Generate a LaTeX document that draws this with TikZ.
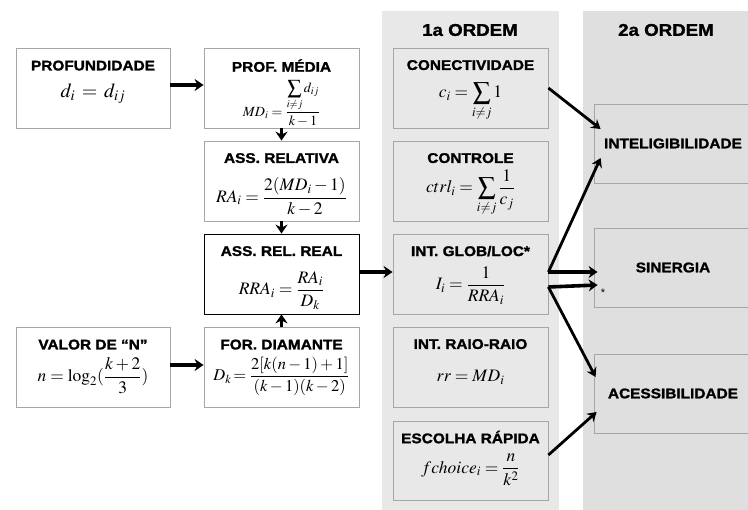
\documentclass[tikz,border=0pt]{standalone}
\usepackage{amsmath}
\usepackage{mathptmx}
\usepackage{fontspec}
\setmainfont{Liberation Sans}
\newfontfamily\tfont{Liberation Sans}[FakeStretch=1.1, BoldFeatures={FakeBold=1.5}]
\usetikzlibrary{arrows.meta,calc}
\definecolor{colA}{gray}{0.91}
\definecolor{colB}{gray}{0.875}
\definecolor{bordergray}{gray}{0.65}
\tikzset{
  box/.style={draw=bordergray, line width=0.8pt, minimum width=155pt, minimum height=80pt, inner sep=0pt},
  wbox/.style={box, fill=white},
  gbox/.style={box, fill=colA},
  obox/.style={box, fill=colB, minimum width=158pt, minimum height=79pt},
  ttl/.style={font=\tfont\bfseries\fontsize{14}{16}\selectfont, inner sep=0pt},
  coltitle/.style={font=\tfont\bfseries\fontsize{17}{19}\selectfont, inner sep=0pt},
  frm/.style={font=\fontsize{17.5}{20}\selectfont, inner sep=0pt},
  bigarrow/.style={line width=3.6pt, -{Stealth[length=9pt,width=12pt,inset=3pt]}},
  diagarrow/.style={line width=2.8pt, -{Stealth[length=9pt,width=11pt,inset=3pt]}},
}
\begin{document}
\begin{tikzpicture}[x=1pt,y=1pt]
\useasboundingbox (0,0) rectangle (748,-510);
\fill[white] (0,0) rectangle (748,-510);
% columns
\fill[colA] (382,-11) rectangle (559,-510);
\fill[colB] (583,-11) rectangle (748,-510);
\node[coltitle] (t1) at (470,-30) {1a ORDEM};
\node[coltitle] (t2) at (666,-30) {2a ORDEM};

% left boxes
\node[wbox, minimum width=154pt] (prof) at (93,-88) {};
\node[wbox] (med) at (281.5,-88) {};
\node[wbox] (rel) at (281.5,-181) {};
\node[wbox, draw=black] (real) at (281.5,-274) {};
\node[wbox] (diam) at (281.5,-367) {};
\node[wbox, minimum width=154pt] (valor) at (93,-367) {};

% first order boxes
\node[gbox] (con) at (470.5,-88) {};
\node[gbox] (ctrl) at (470.5,-181) {};
\node[gbox] (glob) at (470.5,-274) {};
\node[gbox] (raio) at (470.5,-367) {};
\node[gbox, minimum height=79pt] (esc) at (470.5,-460.5) {};

% second order boxes
\node[obox] (intel) at (673,-143.5) {};
\node[obox] (sin) at (673,-267.5) {};
\node[obox] (ace) at (673,-393.5) {};

% titles
\node[ttl] (profT) at ($(prof.north)+(0,-18)$) {PROFUNDIDADE};
\node[ttl] (medT) at ($(med.north)+(0,-18)$) {PROF. MÉDIA};
\node[ttl] (relT) at ($(rel.north)+(0,-17.5)$) {ASS. RELATIVA};
\node[ttl] (realT) at ($(real.north)+(0,-17.5)$) {ASS. REL. REAL};
\node[ttl] (diamT) at ($(diam.north)+(0,-18)$) {FOR. DIAMANTE};
\node[ttl] (valorT) at ($(valor.north)+(0,-18)$) {VALOR DE “N”};
\node[ttl] (conT) at ($(con.north)+(0,-17.5)$) {CONECTIVIDADE};
\node[ttl] (ctrlT) at ($(ctrl.north)+(0,-17.5)$) {CONTROLE};
\node[ttl] (globT) at ($(glob.north)+(0,-17.5)$) {INT. GLOB/LOC*};
\node[ttl] (raioT) at ($(raio.north)+(0,-17.5)$) {INT. RAIO-RAIO};
\node[ttl] (escT) at ($(esc.north)+(0,-16.5)$) {ESCOLHA RÁPIDA};
\node[ttl] (intelT) at (intel.center) {INTELIGIBILIDADE};
\node[ttl] (sinT) at (sin.center) {SINERGIA};
\node[ttl] (aceT) at (ace.center) {ACESSIBILIDADE};

% formulas
\node[frm, font=\fontsize{20}{22}\selectfont] (profF) at ($(prof.north)+(0,-46)$) {$d_i \,=\, d_{ij}$};
\node[frm, font=\fontsize{14}{16}\selectfont] (medF) at ($(med.north)+(0,-56)$) {$MD_i = \dfrac{\displaystyle\sum\limits_{i\neq j} d_{ij}}{k-1}$};
\node[frm] (relF) at ($(rel.north)+(0,-56)$) {$RA_i = \dfrac{2(MD_i-1)}{k-2}$};
\node[frm] (realF) at ($(real.north)+(0,-57)$) {$RRA_i = \dfrac{RA_i}{D_k}$};
\node[frm] (valorF) at ($(valor.north)+(0,-49)$) {$n = \log_2(\dfrac{k+2}{3})$};
\node[frm, font=\fontsize{16.5}{19}\selectfont] (diamF) at ($(diam.north)+(0,-50)$) {$D_k\!= \dfrac{2[k(n-1)+1]}{(k-1)(k-2)}$};
\node[frm] (conF) at ($(con.north)+(0,-54)$) {$\displaystyle c_i = \sum_{i\neq j} 1$};
\node[frm] (ctrlF) at ($(ctrl.north)+(0,-52)$) {$\displaystyle ctrl_i = \sum_{i\neq j}\frac{1}{c_j}$};
\node[frm] (globF) at ($(glob.north)+(0,-52)$) {$I_i = \dfrac{1}{RRA_i}$};
\node[frm] (raioF) at ($(raio.north)+(0,-51)$) {$rr = MD_i$};
\node[frm] (escF) at ($(esc.north)+(0,-49)$) {$fchoice_i = \dfrac{n}{k^2}$};

\node[font=\fontsize{11}{12}\selectfont, inner sep=0pt] (ast) at (603,-293) {*};

% left arrows
\draw[bigarrow] ($(prof.east)+(0,3)$) -- ($(med.west)+(0,3)$);
\draw[bigarrow] ($(valor.east)+(0,2)$) -- ($(diam.west)+(0,2)$);
\draw[bigarrow] (med.south) -- (rel.north);
\draw[bigarrow] (rel.south) -- (real.north);
\draw[bigarrow] (diam.north) -- (real.south);
\draw[bigarrow] ($(real.east)+(0,2)$) -- ($(glob.west)+(0,2)$);

% right arrows
\coordinate (g1) at ($(glob.east)+(0,2)$);
\coordinate (g2) at ($(glob.east)+(0,-13)$);
\draw[diagarrow] (con.east) -- ($(intel.west)+(7,14.5)$);
\draw[diagarrow] (g1) -- ($(intel.west)+(7,-14.5)$);
\draw[bigarrow] (g1) -- ($(sin.west)+(4,-4.5)$);
\draw[bigarrow] (g2) -- ($(sin.west)+(4,-17.5)$);
\draw[diagarrow] (g2) -- ($(ace.west)+(2,16.5)$);
\draw[diagarrow] ($(esc.east)+(0,5.5)$) -- ($(ace.west)+(3,-18.5)$);
\end{tikzpicture}
\end{document}
